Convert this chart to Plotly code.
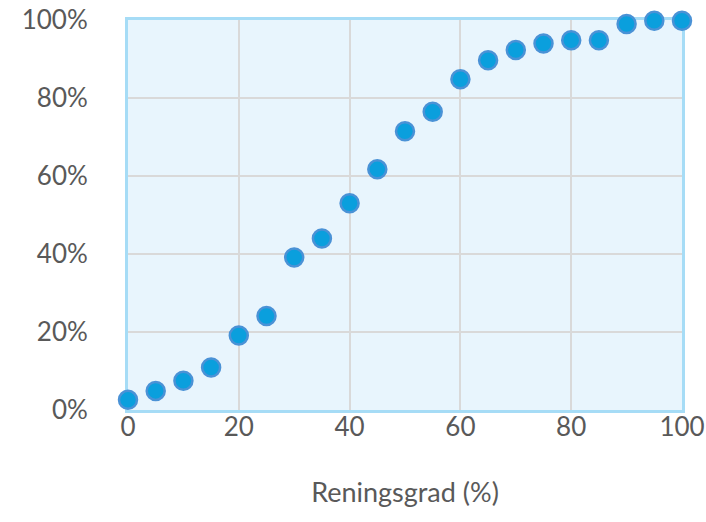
import plotly.graph_objects as go

# Reningsgrad (%) and the cumulative share for each step
reningsgrad = [0, 5, 10, 15, 20, 25, 30, 35, 40, 45, 50, 55, 60, 65, 70, 75, 80, 85, 90, 95, 100]
andel = [2.6, 4.9, 7.5, 10.9, 19.1, 24.1, 39.1, 44.0, 53.0, 61.7, 71.5, 76.5, 84.8, 89.7,
         92.3, 94.0, 94.8, 94.8, 99.0, 99.8, 99.8]

x_ticks = [0, 20, 40, 60, 80, 100]
y_ticks = [0, 20, 40, 60, 80, 100]
y_tick_labels = ["0%", "20%", "40%", "60%", "80%", "100%"]

font_family = "Lato, 'Open Sans', sans-serif"
text_color = "#595959"
frame_color = "#a6dcf6"
grid_color = "#d9d9d9"

fig = go.Figure(
    go.Scatter(
        x=reningsgrad,
        y=andel,
        mode="markers",
        cliponaxis=False,
        marker=dict(size=18, color="#0a9fdd", line=dict(color="#4a92d6", width=2.5)),
        hoverinfo="x+y",
    )
)

fig.update_layout(
    width=706,
    height=522,
    margin=dict(l=128, r=24, t=20, b=112, autoexpand=False),
    paper_bgcolor="white",
    plot_bgcolor="#e8f5fd",
    showlegend=False,
    font=dict(family=font_family, size=26, color=text_color),
)

fig.update_xaxes(
    range=[0, 100],
    tickvals=x_ticks,
    automargin=False,
    showgrid=True,
    gridcolor=grid_color,
    gridwidth=2,
    zeroline=False,
    showline=True,
    linecolor=frame_color,
    linewidth=3,
    mirror=True,
    layer="below traces",
    ticks="",
    ticklen=0,
    ticklabelstandoff=-8,
    tickfont=dict(size=26, color=text_color),
    title=dict(text="Reningsgrad (%)", font=dict(size=27, color=text_color), standoff=42),
)

fig.update_yaxes(
    range=[0, 100],
    tickvals=y_ticks,
    ticktext=y_tick_labels,
    automargin=False,
    showgrid=True,
    gridcolor=grid_color,
    gridwidth=2,
    zeroline=False,
    showline=True,
    linecolor=frame_color,
    linewidth=3,
    mirror=True,
    layer="below traces",
    ticks="",
    ticklen=0,
    ticklabelstandoff=32,
    tickfont=dict(size=26, color=text_color),
)

fig.write_html("out.html")
